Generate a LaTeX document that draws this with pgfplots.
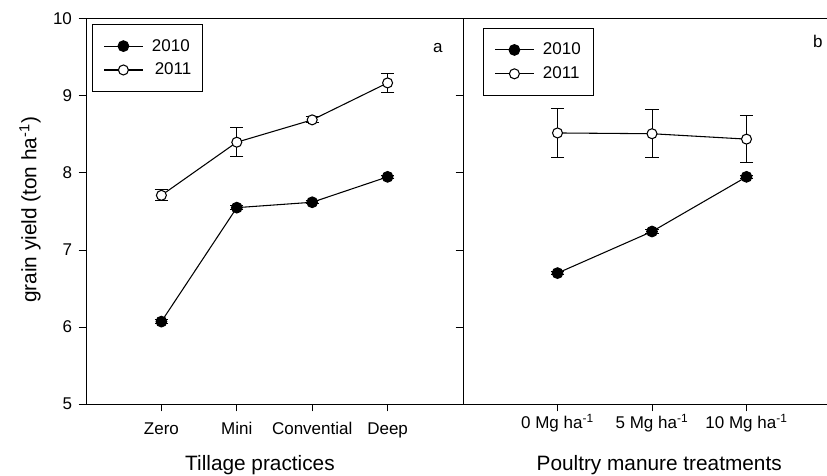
\documentclass[border=0pt]{standalone}
\usepackage{fontspec}
\setmainfont{Liberation Sans}
\usepackage{pgfplots}
\pgfplotsset{compat=1.18}
\newcommand{\tickfont}{\fontsize{12.75}{15}\selectfont}
\newcommand{\labfont}{\fontsize{15.6}{18}\selectfont}
\pgfplotsset{
  panel/.style={
    scale only axis, height=288.75pt,
    ymin=5, ymax=10, ytick={5,6,7,8,9,10},
    tick align=outside, xtick pos=bottom, ytick pos=left,
    major tick length=5.5pt,
    axis line style={line width=0.75pt},
    tick style={line width=0.75pt, black},
    tick label style={font=\tickfont},
    /pgf/number format/assume math mode=true,
    yticklabel style={xshift=-1.5pt},
    legend style={draw=black, line width=0.75pt, font=\tickfont, anchor=north west,
      inner xsep=8.25pt, inner ysep=9pt, row sep=3.5pt, column sep=4.5pt},
    legend cell align=left,
    legend image code/.code={\draw[mark repeat=2,mark phase=2,##1] plot coordinates {(0pt,0pt)(14.5pt,0pt)(29pt,0pt)};},
  },
  y2010/.style={black, line width=0.8pt, mark=*, mark size=4pt, mark options={fill=black, solid},
    error bars/.cd, y dir=both, y explicit, error bar style={line width=0.75pt}, error mark options={rotate=90, black, mark size=5pt, line width=0.75pt}},
  y2011/.style={black, line width=0.8pt, mark=*, mark size=3.75pt, mark options={fill=white, solid},
    error bars/.cd, y dir=both, y explicit, error bar style={line width=0.75pt}, error mark options={rotate=90, black, mark size=5pt, line width=0.75pt}},
}
\begin{document}
\begin{tikzpicture}
\begin{axis}[panel, at={(0pt,0pt)}, anchor=south west, width=282.75pt,
  xmin=0, xmax=5, xtick={1,2,3,4}, xticklabels={Zero,Mini,Convential,Deep},
  xticklabel style={text height=9.5pt, text depth=2.7pt, yshift=-4pt},
  xlabel={Tillage practices}, xlabel style={font=\labfont, at={(axis description cs:0.4615,0)}, anchor=base, yshift=-49.5pt},
  ylabel={grain yield (ton ha\textsuperscript{-1})}, ylabel style={font=\labfont, at={(axis description cs:0,0.504)}, anchor=center, yshift=42pt},
  legend style={at={(0.016,0.987)}},
]
\addplot[y2010] coordinates {(1,6.07) +- (0,0.03) (2,7.55) +- (0,0.03) (3,7.62) +- (0,0.02) (4,7.95) +- (0,0.02)};
\addlegendentry{\makebox[27.75pt][l]{2010}}
\addplot[y2011] coordinates {(1,7.71) +- (0,0.07) (2,8.40) +- (0,0.19) (3,8.69) +- (0,0.04) (4,9.17) +- (0,0.12)};
\addlegendentry{\makebox[27.75pt][l]{\,2011}}
\node[font=\tickfont, anchor=base] at (axis description cs:0.933,0.912) {a};
\end{axis}
\begin{axis}[panel, at={(282.75pt,0pt)}, anchor=south west, width=283.5pt,
  xmin=0, xmax=4, xtick={1,2,3}, xticklabels={0 Mg ha\textsuperscript{-1},5 Mg ha\textsuperscript{-1},10 Mg ha\textsuperscript{-1}},
  xticklabel style={text height=9.5pt, text depth=2.7pt, yshift=0pt},
  yticklabels={},
  xlabel={Poultry manure treatments}, xlabel style={font=\labfont, at={(axis description cs:0.519,0)}, anchor=base, yshift=-49.5pt},
  legend style={at={(0.053,0.977)}},
]
\addplot[y2010] coordinates {(1,6.70) +- (0,0.02) (2,7.24) +- (0,0.02) (3,7.95) +- (0,0.02)};
\addlegendentry{\makebox[27.75pt][l]{2010}}
\addplot[y2011] coordinates {(1,8.52) +- (0,0.32) (2,8.51) +- (0,0.31) (3,8.44) +- (0,0.31)};
\addlegendentry{\makebox[27.75pt][l]{2011}}
\node[font=\tickfont, anchor=base] at (axis description cs:0.939,0.927) {b};
\end{axis}
\pgfresetboundingbox
\useasboundingbox (-64.5pt,-53.25pt) rectangle (555.75pt,303pt);
\end{tikzpicture}
\end{document}
